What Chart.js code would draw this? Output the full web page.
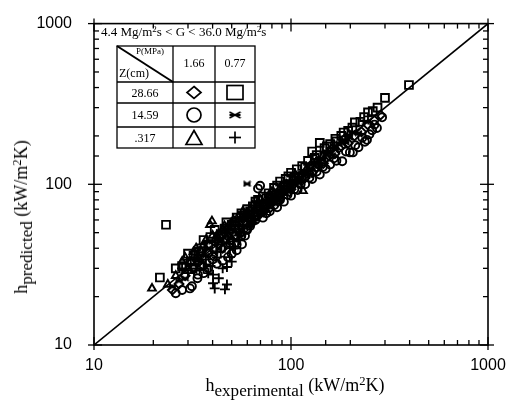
<!DOCTYPE html>
<html>
<head>
<meta charset="utf-8">
<script src="https://cdn.jsdelivr.net/npm/chart.js@4/dist/chart.umd.min.js"></script>
<style>
  body { margin: 0; background: #fff; }
  #wrap { position: relative; width: 511px; height: 403px; background: #fff; }
  .t { position: absolute; font-family: "Liberation Serif", "DejaVu Serif", serif; color: #000; white-space: nowrap; line-height: 1; }
  .t sup { font-size: 0.7em; vertical-align: 0.45em; line-height: 0; }
  .t sub { font-size: 0.95em; vertical-align: -0.3em; line-height: 0; }
  .c { transform: translate(-50%, -50%); }
</style>
</head>
<body>
<div id="wrap">
  <canvas id="chart" width="511" height="403"></canvas>
  <div class="t" style="left:101px;top:25px;font-size:13px;">4.4 Mg/m<sup>2</sup>s &lt; G &lt; 36.0 Mg/m<sup>2</sup>s</div>
  <div class="t" style="left:136px;top:47px;font-size:9px;">P(MPa)</div>
  <div class="t" style="left:119px;top:67px;font-size:12px;">Z(cm)</div>
  <div class="t c" style="left:194px;top:63px;font-size:12px;">1.66</div>
  <div class="t c" style="left:235px;top:63px;font-size:12px;">0.77</div>
  <div class="t c" style="left:145px;top:93px;font-size:12px;">28.66</div>
  <div class="t c" style="left:145px;top:115px;font-size:12px;">14.59</div>
  <div class="t c" style="left:145px;top:138px;font-size:12px;">.317</div>
  <div class="t c" style="left:295px;top:385px;font-size:18px;">h<sub>experimental</sub> (kW/m<sup>2</sup>K)</div>
  <div class="t c" style="left:21px;top:217px;font-size:18px;transform:translate(-50%,-50%) rotate(-90deg);">h<sub>predicted</sub> (kW/m<sup>2</sup>K)</div>
</div>
<script>
// axis ticks
const tickLabels = [10, 100, 1000];

// Z = 28.66 cm, P = 1.66 MPa
const diamondPts = [[25,22],[27,24],[29,27],[32,30],[34,33],[35,38],[36,31],[38,37],[40,36],[41,44],[43,42],[45,40],[46,50],[48,47],[50,45],[52,48],[53,52],[56,50],[57,62],[59,58],[62,56],[63,60],[66,64],[68,73],[70,66],[73,68],[74,72],[78,71],[80,84],[83,80],[86,78],[88,82],[92,97],[94,92],[98,90],[100,93],[106,104],[110,112],[113,105],[118,110],[120,117],[125,130],[128,118],[135,128],[137,133],[146,135],[150,145],[156,150],[160,165],[167,155],[175,168],[180,172],[190,195],[195,180],[210,200],[228,212],[245,235],[265,250],[285,270]];
// Z = 28.66 cm, P = 0.77 MPa
const squarePts = [[21.6,26.3],[23.2,56],[26,30],[28,31],[30,37],[31,33],[32,36],[34,38],[35,40],[36,45],[38,42],[39,47],[41,52],[43,46],[44,49],[46,53],[47,58],[50,56],[52,58],[53,62],[56,66],[58,64],[60,70],[62,68],[64,73],[66,78],[68,80],[72,84],[75,82],[77,88],[82,95],[85,98],[88,104],[94,108],[97,112],[100,118],[104,110],[107,124],[114,130],[118,128],[122,140],[128,160],[132,146],[135,152],[140,181],[148,168],[152,172],[158,178],[168,192],[170,185],[180,200],[185,210],[195,215],[205,225],[211,243],[225,245],[235,262],[246,280],[260,285],[275,300],[300,345],[397,415]];
// Z = 14.59 cm, P = 1.66 MPa
const circlePts = [[26,21],[28,22],[30.7,22.5],[31.4,23.2],[33.5,26],[33.7,27.4],[35,31],[36,28],[38,30],[40,34],[42,32],[44,40],[45,33.5],[47.9,35.2],[49,43],[50,37],[53,38.9],[53,42.2],[55,50],[56.4,42.3],[56,47.9],[58.4,47.9],[59.8,52],[60,53],[62,55],[66,60],[68,94],[69.7,98],[72,62],[75,66],[78,68],[82,74],[85,72],[88,80],[92,78],[96,86],[100,85],[104,93],[108,92],[112,100],[118,100],[124,110],[128,108],[135,120],[140,115],[145,128],[150,125],[158,133],[165,145],[170,140],[182,139],[190,160],[199,158],[206,158],[212,175],[220,170],[230,195],[237,184],[243,189],[250,205],[258,217],[265,235],[273,224],[290,261]];
// Z = 14.59 cm, P = 0.77 MPa
const bowtiePts = [[25,23],[27,25],[29,26],[30,31],[32,29],[33,35],[35,33],[37,36],[38,40],[40,44],[41,38],[43,40],[44,46],[46,50],[47,43],[49,47],[50,52],[52,56],[54,50],[56,55],[58,60],[59.8,100.7],[60,63],[62,58],[64,62],[66,68],[68,72],[70,65],[73,70],[75,78],[78,82],[80,76],[83,80],[86,90],[90,95],[92,88],[95,92],[98,102],[102,106],[105,100],[108,104],[112,116],[116,120],[120,114],[125,122],[130,134],[135,138],[140,132],[145,142],[150,155],[157,160],[162,152],[168,165],[175,180],[182,186],[190,182],[198,195],[205,210],[220,208],[240,245]];
// Z = .317 cm, P = 1.66 MPa
const trianglePts = [[19.7,22.5],[23.7,23.8],[26,27],[28,33],[29,35],[30,30],[31,33],[32,38],[33,40],[34,35],[35,38],[36,42],[37,45],[38.8,56],[39.7,59],[40,48],[42,48],[43,46],[45,52],[46,55],[48,55],[49,52],[51,60],[53,58],[54,63],[56,62],[57,68],[59,64],[60,66],[62,70],[64,74],[66,68],[68,78],[70,80],[72,76],[75,78],[77,85],[80,90],[82,88],[86,85],[88,95],[92,100],[95,100],[98,96],[102,108],[105,115],[110,106],[115,91],[120,125],[125,118],[135,140],[145,150]];
// Z = .317 cm, P = 0.77 MPa
const plusPts = [[28,30],[30,28],[31,32],[33,30],[34,33],[36,30],[37,34],[38,28],[39,31],[40.2,27.4],[40.2,24.2],[41,22.5],[42,35],[43,26],[44,38],[45,30],[46.2,22.2],[47.3,23.8],[47.3,30.6],[48.9,35.2],[49,40],[50,33],[51,44],[52,40],[54,48],[55,45],[57,53],[58,50],[60,55],[62,56],[64,58],[66,60],[68,64],[70,66],[73,68],[75,72],[78,75],[80,78],[84,80],[86,84],[90,86],[92,90],[96,94],[100,96]];

const diagonal = [[10,10],[1000,1000]];

function toXY(arr) {
  return arr.map(p => ({ x: p[0], y: p[1] }));
}

function bowtieImg(w, h, lw) {
  const c = document.createElement('canvas');
  c.width = w; c.height = h;
  const g = c.getContext('2d');
  g.strokeStyle = '#000';
  g.lineWidth = lw;
  g.beginPath();
  g.moveTo(1, 1); g.lineTo(w - 1, h - 1);
  g.moveTo(w - 1, 1); g.lineTo(1, h - 1);
  g.moveTo(1, h / 2); g.lineTo(w - 1, h / 2);
  g.stroke();
  return c;
}

function series(pts, style, r) {
  return {
    data: toXY(pts),
    pointStyle: style,
    pointRadius: r,
    pointBorderColor: '#000',
    pointBackgroundColor: 'rgba(0,0,0,0)',
    pointBorderWidth: 1.9,
    showLine: false
  };
}

function line(ctx, x1, y1, x2, y2) {
  ctx.beginPath();
  ctx.moveTo(x1, y1);
  ctx.lineTo(x2, y2);
  ctx.stroke();
}

const isMajor = v => Math.abs(Math.log10(v) - Math.round(Math.log10(v))) < 1e-6;

const frameTicks = {
  id: 'frameTicks',
  afterDraw(chart) {
    const { ctx, chartArea: a, scales: { x, y } } = chart;
    ctx.save();
    ctx.strokeStyle = '#000';
    ctx.lineWidth = 1.6;
    ctx.strokeRect(a.left, a.top, a.right - a.left, a.bottom - a.top);
    ctx.lineWidth = 1.3;
    x.ticks.forEach(t => {
      const px = x.getPixelForValue(t.value);
      const m = isMajor(t.value);
      const inL = m ? 8 : 5, outL = m ? 5 : 0;
      line(ctx, px, a.bottom + outL, px, a.bottom - inL);
      line(ctx, px, a.top - outL, px, a.top + inL);
    });
    y.ticks.forEach(t => {
      const py = y.getPixelForValue(t.value);
      const m = isMajor(t.value);
      const inL = m ? 8 : 5, outL = m ? 6 : 0;
      line(ctx, a.left - outL, py, a.left + inL, py);
      line(ctx, a.right + outL, py, a.right - inL, py);
    });

    // legend table
    const L = 117, R = 255, T = 46, B = 148;
    const cols = [173, 215];
    const rows = [82, 103, 127];
    ctx.fillStyle = '#fff';
    ctx.fillRect(L, T, R - L, B - T);
    ctx.lineWidth = 1.3;
    ctx.strokeRect(L, T, R - L, B - T);
    cols.forEach(cx => line(ctx, cx, T, cx, B));
    rows.forEach(ry => line(ctx, L, ry, R, ry));
    ctx.lineWidth = 2;
    line(ctx, L, T, cols[0], rows[0]);

    ctx.lineWidth = 1.7;
    const c2 = 194, c3 = 235, r1 = 92.5, r2 = 115, r3 = 137.5;
    // diamond
    ctx.beginPath();
    ctx.moveTo(c2, r1 - 6); ctx.lineTo(c2 + 7, r1); ctx.lineTo(c2, r1 + 6); ctx.lineTo(c2 - 7, r1); ctx.closePath(); ctx.stroke();
    // square
    ctx.strokeRect(c3 - 8, r1 - 7, 16, 14);
    // circle
    ctx.beginPath(); ctx.arc(c2, r2, 7, 0, Math.PI * 2); ctx.stroke();
    // bowtie
    ctx.drawImage(bowtieImg(13, 8, 1.8), c3 - 6.5, r2 - 4);
    // triangle
    ctx.beginPath();
    ctx.moveTo(c2, r3 - 7); ctx.lineTo(c2 + 8, r3 + 7); ctx.lineTo(c2 - 8, r3 + 7); ctx.closePath(); ctx.stroke();
    // plus
    line(ctx, c3 - 6, r3, c3 + 6, r3);
    line(ctx, c3, r3 - 6, c3, r3 + 6);
    ctx.restore();
  }
};

const tickFont = { family: '"Liberation Sans", Arial, sans-serif', size: 16 };

new Chart(document.getElementById('chart'), {
  type: 'scatter',
  data: {
    datasets: [
      {
        data: toXY(diagonal),
        showLine: true,
        borderColor: '#000',
        borderWidth: 1.6,
        pointRadius: 0
      },
      series(diamondPts, 'rectRot', 4.5),
      series(squarePts, 'rect', 5.5),
      series(circlePts, 'circle', 4),
      series(bowtiePts, bowtieImg(9, 7, 1.8), 4),
      series(trianglePts, 'triangle', 4.5),
      series(plusPts, 'cross', 5)
    ]
  },
  options: {
    responsive: false,
    animation: false,
    devicePixelRatio: 1,
    layout: { padding: { top: 16, right: 23, left: 0, bottom: 0 } },
    plugins: { legend: { display: false }, tooltip: { enabled: false } },
    scales: {
      x: {
        type: 'logarithmic',
        min: 10,
        max: 1000,
        border: { display: false },
        grid: { display: false },
        afterFit: s => { s.height = 58; },
        ticks: {
          color: '#000',
          font: tickFont,
          maxRotation: 0,
          autoSkip: false,
          padding: 3,
          callback: v => tickLabels.includes(v) ? String(v) : ''
        }
      },
      y: {
        type: 'logarithmic',
        min: 10,
        max: 1000,
        border: { display: false },
        grid: { display: false },
        afterFit: s => { s.width = 94; },
        ticks: {
          color: '#000',
          font: tickFont,
          autoSkip: false,
          padding: 14,
          callback: v => tickLabels.includes(v) ? String(v) : ''
        }
      }
    }
  },
  plugins: [frameTicks]
});
</script>
</body>
</html>
